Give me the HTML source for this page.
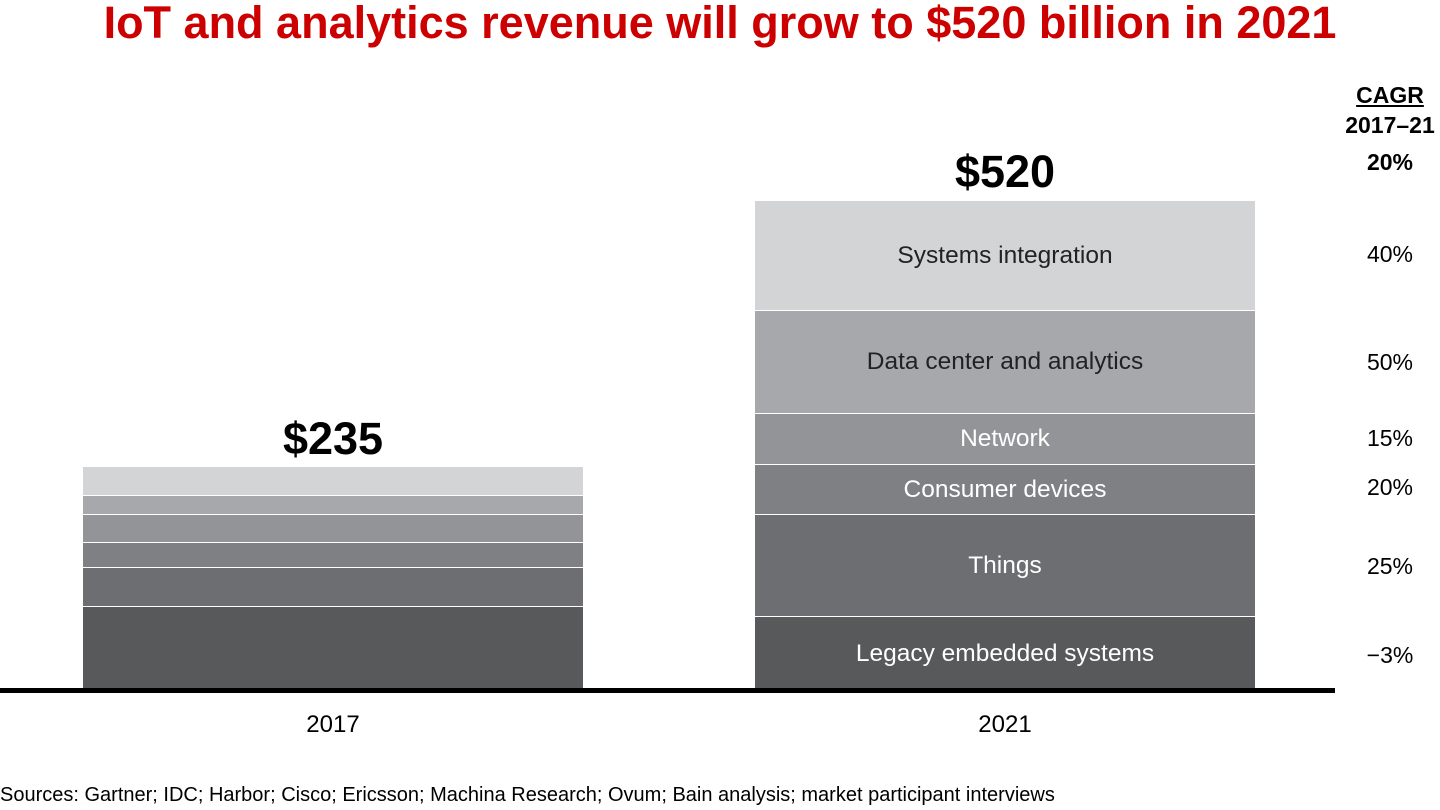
<!DOCTYPE html>
<html><head><meta charset="utf-8"><style>
body{margin:0;width:1440px;height:810px;background:#fff;font-family:"Liberation Sans",sans-serif;position:relative;overflow:hidden}
.a{position:absolute}
.t{left:0;width:1440px;text-align:center;top:-3px;font-size:45px;font-weight:bold;color:#cc0000;line-height:52px}
.s{position:absolute;width:500px;box-sizing:border-box;border-top:1px solid #fff;display:flex;align-items:center;justify-content:center;font-size:24.5px}
.c{position:absolute;width:120px;left:1330px;text-align:center;font-size:23px}
</style></head><body>
<div class="a t">IoT and analytics revenue will grow to $520 billion in 2021</div>
<div class="s" style="left:83px;top:467px;height:28px;background:#d3d4d6;border-top:none"></div>
<div class="s" style="left:83px;top:495px;height:19px;background:#a7a8ab"></div>
<div class="s" style="left:83px;top:514px;height:28px;background:#939497"></div>
<div class="s" style="left:83px;top:542px;height:25px;background:#7f8083"></div>
<div class="s" style="left:83px;top:567px;height:39px;background:#6d6e71"></div>
<div class="s" style="left:83px;top:606px;height:84px;background:#58595b"></div>
<div class="s" style="left:755px;top:201px;height:109px;background:#d3d4d6;border-top:none;color:#222">Systems integration</div>
<div class="s" style="left:755px;top:310px;height:103px;background:#a7a8ab;color:#222">Data center and analytics</div>
<div class="s" style="left:755px;top:413px;height:51px;background:#939497;color:#fff">Network</div>
<div class="s" style="left:755px;top:464px;height:50px;background:#7f8083;color:#fff">Consumer devices</div>
<div class="s" style="left:755px;top:514px;height:102px;background:#6d6e71;color:#fff">Things</div>
<div class="s" style="left:755px;top:616px;height:74px;background:#58595b;color:#fff">Legacy embedded systems</div>
<div class="a" style="left:0;top:688px;width:1335px;height:5px;background:#000"></div>
<div class="a" style="left:83px;width:500px;text-align:center;top:413px;font-size:45px;font-weight:bold">$235</div>
<div class="a" style="left:755px;width:500px;text-align:center;top:146px;font-size:45px;font-weight:bold">$520</div>
<div class="a" style="left:83px;width:500px;text-align:center;top:711px;font-size:24px">2017</div>
<div class="a" style="left:755px;width:500px;text-align:center;top:711px;font-size:24px">2021</div>
<div class="c" style="top:82px;font-weight:bold;text-decoration:underline">CAGR</div>
<div class="c" style="top:112px;font-weight:bold">2017–21</div>
<div class="c" style="top:149px;font-weight:bold">20%</div>
<div class="c" style="top:241px">40%</div>
<div class="c" style="top:349px">50%</div>
<div class="c" style="top:425px">15%</div>
<div class="c" style="top:474px">20%</div>
<div class="c" style="top:553px">25%</div>
<div class="c" style="top:642px">−3%</div>
<div class="a" style="left:0;top:784px;font-size:20px">Sources: Gartner; IDC; Harbor; Cisco; Ericsson; Machina Research; Ovum; Bain analysis; market participant interviews</div>
</body></html>
